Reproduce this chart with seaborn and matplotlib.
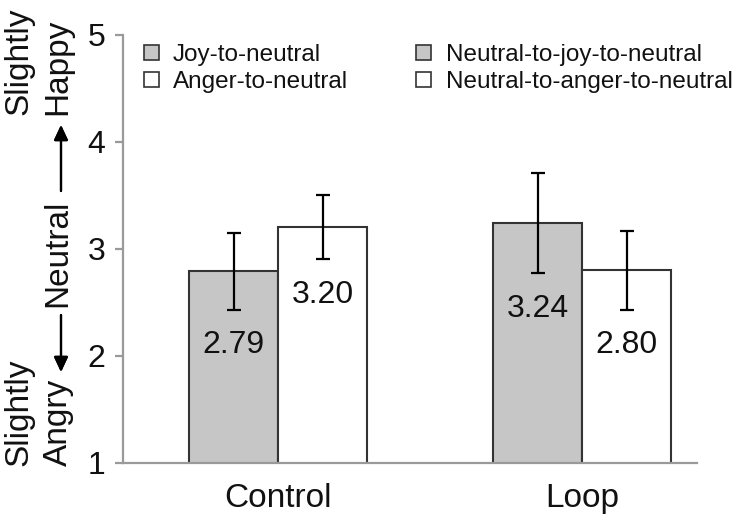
import pandas as pd
import matplotlib
matplotlib.use("Agg")
import matplotlib.pyplot as plt
import seaborn as sns
from matplotlib.patches import Patch

# valeurs
conditions = ["Control", "Control", "Loop", "Loop"]
emotions = ["joy", "anger", "joy", "anger"]
means = [2.79, 3.20, 3.24, 2.80]
errors = [0.36, 0.30, 0.47, 0.37]

legend_labels = ["Joy-to-neutral", "Anger-to-neutral",
                 "Neutral-to-joy-to-neutral", "Neutral-to-anger-to-neutral"]
legend_emotions = ["joy", "anger", "joy", "anger"]
y_ticks = [1, 2, 3, 4, 5]

colors = {"joy": "#c6c6c6", "anger": "#ffffff"}
edge = "#333333"
axis_gray = "#9a9a9a"
ink = "#111111"


def plot_ratings():
    sns.set_theme(style="white")
    plt.rcParams["font.family"] = ["Liberation Sans", "DejaVu Sans"]

    df = pd.DataFrame({"condition": conditions, "emotion": emotions,
                       "mean": means, "err": errors})

    fig = plt.figure(figsize=(7.38, 5.22), dpi=100)
    W, H = 738, 522
    ax = fig.add_axes([123 / W, 59.5 / H, (697 - 123) / W, (487 - 59.5) / H])

    sns.barplot(data=df, x="condition", y="mean", hue="emotion",
                hue_order=["joy", "anger"], palette=colors, width=0.585,
                edgecolor=edge, linewidth=1.5, errorbar=None, legend=False,
                ax=ax)

    # barres d'erreur + valeurs
    for emo, cont in zip(["joy", "anger"], ax.containers):
        sub = df[df["emotion"] == emo].reset_index(drop=True)
        for bar, (_, row) in zip(cont, sub.iterrows()):
            xc = bar.get_x() + bar.get_width() / 2
            ax.errorbar(xc, row["mean"], yerr=row["err"], fmt="none",
                        ecolor="black", elinewidth=1.6, capsize=4.8,
                        capthick=1.6, zorder=5)
            ax.text(xc, row["mean"] - row["err"] - 0.41, f"{row['mean']:.2f}",
                    ha="center", va="baseline", fontsize=23, color=ink)

    ax.set_ylim(1, 5)
    ax.set_xlim(-0.51, 1.378)
    ax.set_yticks(y_ticks)
    ax.set_yticklabels([str(t) for t in y_ticks])
    ax.set_xlabel("")
    ax.set_ylabel("")
    sns.despine(ax=ax)
    for s in ["left", "bottom"]:
        ax.spines[s].set_color(axis_gray)
        ax.spines[s].set_linewidth(1.6)
    ax.tick_params(axis="y", length=5.8, width=1.6, color=axis_gray,
                   labelsize=23, pad=7, left=True, labelcolor=ink)
    ax.tick_params(axis="x", length=0, labelsize=24, pad=15, labelcolor=ink)

    # légende en deux colonnes
    handles = [Patch(facecolor=colors[e], edgecolor=edge, linewidth=1.2)
               for e in legend_emotions]
    leg = fig.legend(handles, legend_labels, ncol=2, frameon=False,
                     fontsize=17.5, loc="upper left",
                     bbox_to_anchor=(144 / W, (H - 44) / H),
                     borderaxespad=0, borderpad=0, handlelength=0.6,
                     handleheight=0.6, handletextpad=0.6, columnspacing=2.8,
                     labelspacing=0.2)
    for t in leg.get_texts():
        t.set_color(ink)

    # étiquette de l'axe y avec flèches
    def ytxt(x, y, s, **kw):
        fig.text(x / W, (H - y) / H, s, rotation=90, fontsize=24,
                 ha="center", color=ink, **kw)

    ytxt(19, 115, "Slightly", va="bottom")
    ytxt(58, 115, "Happy", va="bottom")
    ytxt(58, 253, "Neutral", va="center")
    ytxt(19, 466, "Slightly", va="bottom")
    ytxt(58, 466, "Angry", va="bottom")
    arrow = dict(arrowstyle="-|>,head_length=0.75,head_width=0.35",
                 color="black", lw=1.6, shrinkA=0, shrinkB=0)
    fig.add_artist(plt.annotate("", xy=(61, H - 125), xytext=(61, H - 191),
                                xycoords="figure pixels",
                                textcoords="figure pixels", arrowprops=arrow))
    fig.add_artist(plt.annotate("", xy=(61, H - 372), xytext=(61, H - 315),
                                xycoords="figure pixels",
                                textcoords="figure pixels", arrowprops=arrow))

    fig.savefig("out.png", dpi=100)


def main():
    plot_ratings()


if __name__ == "__main__":
    main()
